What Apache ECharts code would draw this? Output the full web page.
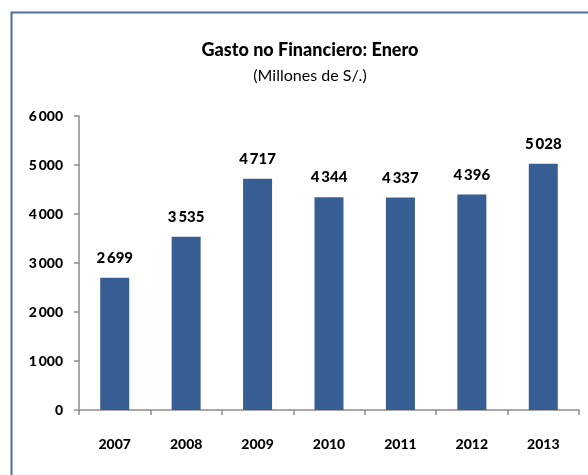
<!DOCTYPE html>
<html>
<head>
<meta charset="utf-8">
<script src="https://cdn.jsdelivr.net/npm/echarts@6/dist/echarts.min.js"></script>
<style>
html,body{margin:0;padding:0;background:#fff;}
#c{width:588px;height:475px;}
</style>
</head>
<body>
<div id="c"></div>
<script>
const categories = ['2007', '2008', '2009', '2010', '2011', '2012', '2013'];
const values = [2699, 3535, 4717, 4344, 4337, 4396, 5028];
const titleText = 'Gasto no Financiero: Enero';
const subtitleText = '(Millones de S/.)';

const FONT = 'Lato, "DejaVu Sans Condensed", sans-serif';
function fmt(v) { return String(v).replace(/\B(?=(\d{3})+(?!\d))/g, '\u2009'); }

const chart = echarts.init(document.getElementById('c'), null, {renderer: 'canvas'});
chart.setOption({
  animation: false,
  backgroundColor: '#fff',
  graphic: [{
    type: 'rect', left: 9, top: 10, z: 100,
    shape: {x: 0, y: 0, width: 620, height: 520},
    style: {fill: 'none', stroke: '#4F6FA3', lineWidth: 2}
  }],
  title: [{
    text: titleText, left: 305, top: 36, textAlign: 'center',
    textStyle: {fontFamily: FONT, fontSize: 18, fontWeight: 900, color: '#000'}
  }, {
    text: subtitleText, left: 305, top: 63, textAlign: 'center',
    textStyle: {fontFamily: FONT, fontSize: 16, fontWeight: 'normal', color: '#000'}
  }],
  grid: {left: 79, top: 116, right: 9, bottom: 65, containLabel: false},
  xAxis: {
    type: 'category', data: categories,
    axisLine: {lineStyle: {color: '#8C8C8C', width: 1.5}},
    axisTick: {show: true, alignWithLabel: false, length: 5, lineStyle: {color: '#8C8C8C', width: 1.5}},
    axisLabel: {fontFamily: FONT, fontSize: 14, fontWeight: 900, color: '#000', margin: 27}
  },
  yAxis: {
    type: 'value', min: 0, max: 6000, interval: 1000,
    splitLine: {show: false},
    axisLine: {show: true, lineStyle: {color: '#8C8C8C', width: 1.5}},
    axisTick: {show: true, length: 5, lineStyle: {color: '#8C8C8C', width: 1.5}},
    axisLabel: {fontFamily: FONT, fontSize: 14, fontWeight: 900, color: '#000', margin: 16, formatter: fmt}
  },
  series: [{
    type: 'bar', data: values, barWidth: 29,
    itemStyle: {color: '#375E93'},
    label: {show: true, position: 'top', distance: 12, formatter: p => fmt(p.value),
      fontFamily: FONT, fontSize: 15, fontWeight: 900, color: '#000'}
  }]
});
</script>
</body>
</html>
